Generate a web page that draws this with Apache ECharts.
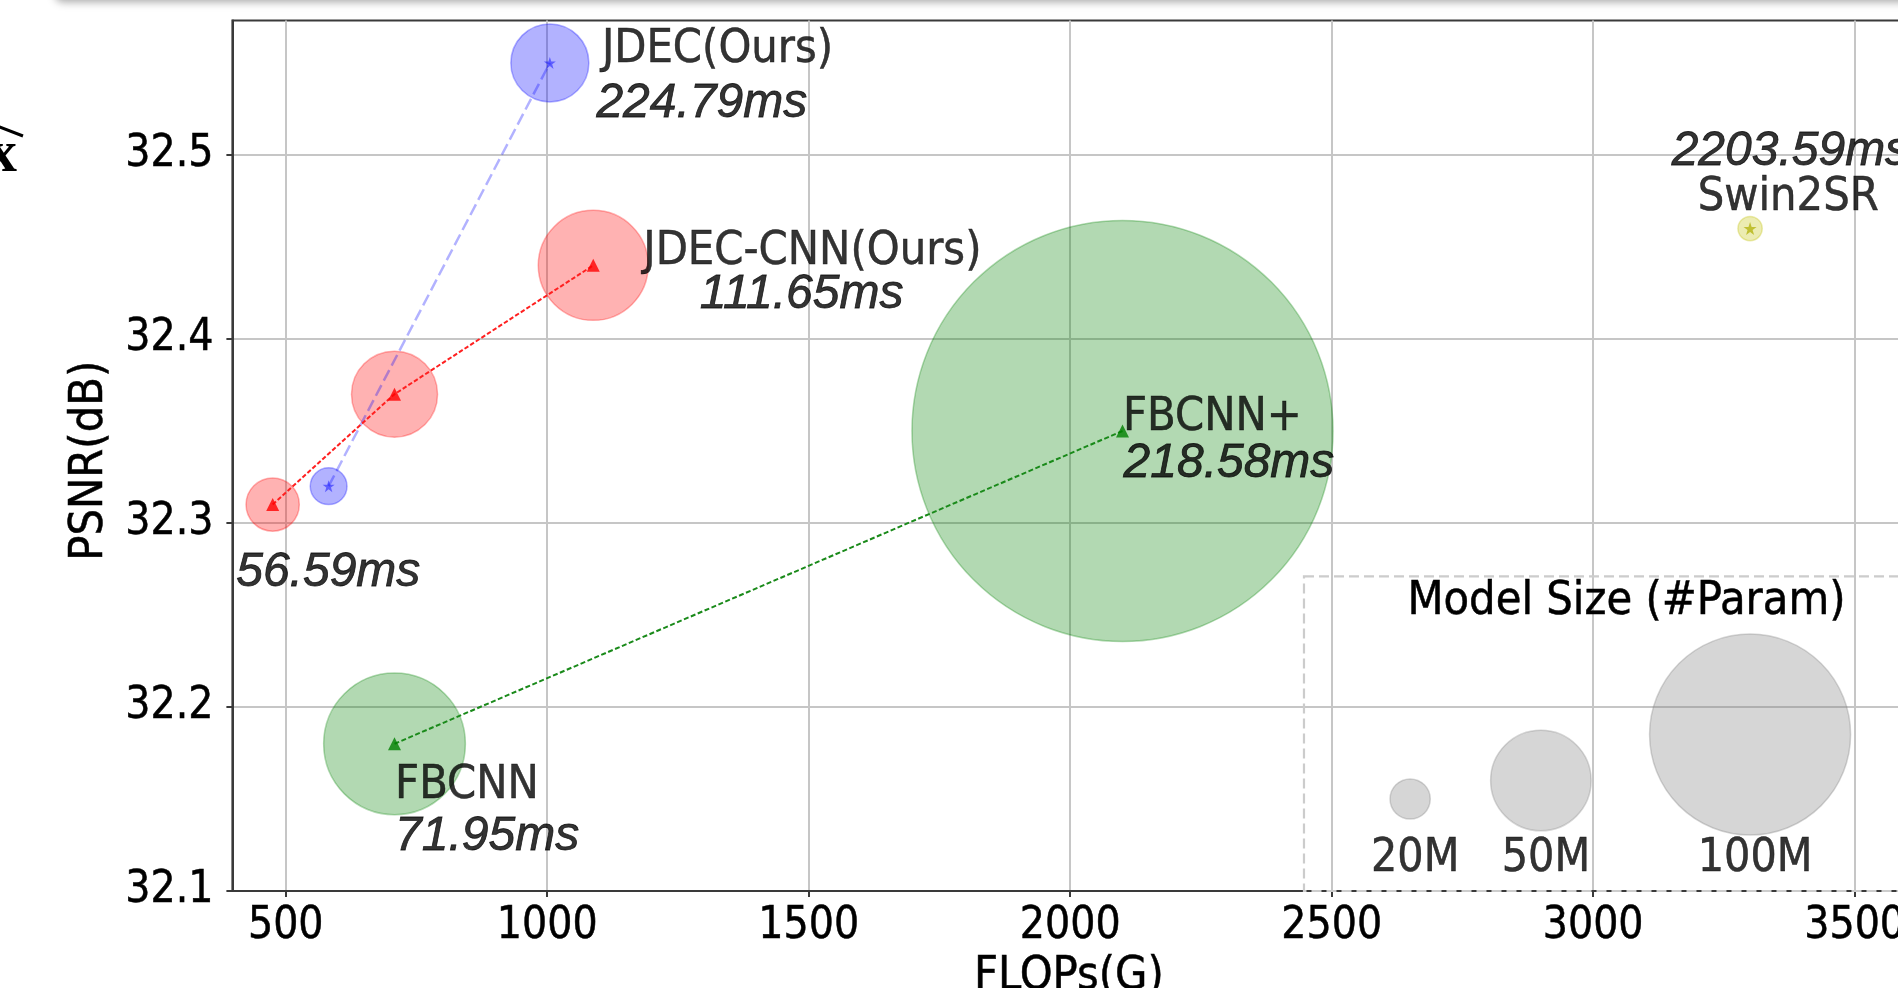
<!DOCTYPE html>
<html>
<head>
<meta charset="utf-8">
<script src="https://cdn.jsdelivr.net/npm/echarts@6/dist/echarts.min.js"></script>
<style>
  html, body { margin: 0; padding: 0; background: #fff; }
  #chart { width: 1898px; height: 988px; }
</style>
</head>
<body>
<div id="chart"></div>
<script>
// ---- Models: FLOPs (G), PSNR (dB), parameters (M), latency (ms) ----
const jdecFlops    = [582, 1005];
const jdecPsnr     = [32.32, 32.55];
const jdecParams   = [18.3, 38.8];
const jdecLatency  = [null, 224.79];
const jdecNames    = ['', 'JDEC(Ours)'];

const jdecCnnFlops   = [475, 708, 1088];
const jdecCnnPsnr    = [32.31, 32.37, 32.44];
const jdecCnnParams  = [26.5, 42.8, 54.7];
const jdecCnnLatency = [56.59, null, 111.65];
const jdecCnnNames   = ['', '', 'JDEC-CNN(Ours)'];

const fbcnnFlops   = [708, 2100];
const fbcnnPsnr    = [32.18, 32.35];
const fbcnnParams  = [70.5, 209.5];
const fbcnnLatency = [71.95, 218.58];
const fbcnnNames   = ['FBCNN', 'FBCNN+'];

const swinFlops   = [3300];
const swinPsnr    = [32.46];
const swinParams  = [12.1];
const swinLatency = [2203.59];
const swinNames   = ['Swin2SR'];

// ---- Model-size key ----
const keyTitle   = 'Model Size (#Param)';
const keyParams  = [20, 50, 100];
const keyLabels  = ['20M', '50M', '100M'];
const keyFlops   = [2650, 2900, 3300];
const keyPsnr    = [32.15, 32.16, 32.185];
const keyCaptionPsnr = 32.119;
const keyCorner  = [2447, 32.271];

// ---- Axes ----
const xRange = [398, 3597];
const yRange = [32.1, 32.573];
const xTicks = [500, 1000, 1500, 2000, 2500, 3000, 3500];
const yTicks = [32.1, 32.2, 32.3, 32.4, 32.5];

// ---- Styling ----
const PX_PER_M = 2.01;            // bubble diameter per million parameters
const INK = '#000';
const SPINE = '#3a3a3a';
const NAME_FONT = '"DejaVu Sans Condensed", "DejaVu Sans"';
const TIME_FONT = 'Liberation Sans';
const INK_EDGE = { textBorderColor: '#000', textBorderWidth: 0.8 };
const STAR = 'path://M50,0 L61.8,35.1 L98.9,35.1 L69,56.9 L80.3,91.9 L50,70.2 L19.7,91.9 L31,56.9 L1.1,35.1 L38.2,35.1 Z';

// text offsets (px) from each point: name line and latency line
const textOffsets = {
  jdec:    [null, { name: [52, -13], time: [46.5, 41] }],
  jdecCnn: [{ time: [-36.5, 68] }, null, { name: [50, -13], time: [106.5, 29] }],
  fbcnn:   [{ name: [0.5, 42.5], time: [0.5, 92.5] }, { name: [0.5, -13], time: [1, 33] }],
  swin:    [{ name: [-52.5, -31], time: [-78.5, -76.5] }]
};

const families = [
  { key: 'jdec', flops: jdecFlops, psnr: jdecPsnr, params: jdecParams, latency: jdecLatency, names: jdecNames,
    fill: 'rgba(0,0,255,0.3)', marker: STAR, markerSize: 12, markerColor: 'rgba(0,0,255,0.6)',
    line: { color: 'rgba(0,0,255,0.3)', width: 2.5, type: [12, 5] } },
  { key: 'jdecCnn', flops: jdecCnnFlops, psnr: jdecCnnPsnr, params: jdecCnnParams, latency: jdecCnnLatency, names: jdecCnnNames,
    fill: 'rgba(255,0,0,0.3)', marker: 'triangle', markerSize: 13, markerColor: '#ff0000',
    line: { color: '#ff2020', width: 2, type: [4.5, 2.2] } },
  { key: 'fbcnn', flops: fbcnnFlops, psnr: fbcnnPsnr, params: fbcnnParams, latency: fbcnnLatency, names: fbcnnNames,
    fill: 'rgba(0,128,0,0.3)', marker: 'triangle', markerSize: 13, markerColor: '#008000',
    line: { color: '#1a8a1a', width: 2, type: [5, 2.5] } },
  { key: 'swin', flops: swinFlops, psnr: swinPsnr, params: swinParams, latency: swinLatency, names: swinNames,
    fill: 'rgba(191,191,0,0.3)', marker: STAR, markerSize: 13, markerColor: 'rgba(175,175,0,0.9)',
    line: null }
];

const series = [];
const nameItems = [];
const timeItems = [];

families.forEach(f => {
  const pts = f.flops.map((x, i) => [x, f.psnr[i], f.params[i]]);
  // parameter bubbles
  series.push({
    type: 'scatter', z: 2, silent: true,
    data: pts,
    symbol: 'circle',
    symbolSize: d => d[2] * PX_PER_M,
    itemStyle: { color: f.fill, borderColor: f.fill, borderWidth: 1.5, opacity: 1 }
  });
  // dashed connection
  if (f.line) {
    series.push({
      type: 'line', z: 3, silent: true, symbol: 'none',
      data: pts.map(p => [p[0], p[1]]),
      lineStyle: { color: f.line.color, width: f.line.width, type: f.line.type }
    });
  }
  // center markers
  series.push({
    type: 'scatter', z: 4, silent: true,
    data: pts.map(p => [p[0], p[1]]),
    symbol: f.marker, symbolSize: f.markerSize,
    itemStyle: { color: f.markerColor }
  });
  // text
  pts.forEach((p, i) => {
    const off = textOffsets[f.key][i];
    if (!off) return;
    if (f.names[i] && off.name) {
      nameItems.push({ value: [p[0], p[1]], name: f.names[i], label: { offset: off.name } });
    }
    if (f.latency[i] != null && off.time) {
      timeItems.push({ value: [p[0], p[1]], name: f.latency[i].toFixed(2) + 'ms', label: { offset: off.time } });
    }
  });
});

const textSeries = (items, font, align) => ({
  type: 'scatter', z: 6, silent: true,
  data: items,
  symbolSize: 0.1,
  itemStyle: { color: 'rgba(0,0,0,0)' },
  label: {
    show: true, position: 'right', distance: 0, align: align || 'left', verticalAlign: 'middle',
    formatter: p => p.name, color: INK, ...INK_EDGE, ...font
  }
});
series.push(textSeries(nameItems, { fontFamily: NAME_FONT, fontSize: 46.5, textBorderWidth: 0.5 }));
series.push(textSeries(timeItems, { fontFamily: TIME_FONT, fontSize: 48, fontStyle: 'italic' }));

// size key bubbles inside a dashed frame
series.push({
  type: 'scatter', z: 2, silent: true,
  data: keyFlops.map((x, i) => [x, keyPsnr[i], keyParams[i]]),
  symbolSize: d => d[2] * PX_PER_M,
  itemStyle: { color: 'rgba(128,128,128,0.4)', borderColor: 'rgba(128,128,128,0.4)', borderWidth: 1.5 },
  markArea: {
    silent: true,
    itemStyle: { color: 'rgba(0,0,0,0)', borderColor: '#cccccc', borderWidth: 2.2, borderType: [10, 5] },
    label: {
      show: true, position: [104.5, 27], align: 'left', verticalAlign: 'middle',
      color: INK, fontFamily: NAME_FONT, fontSize: 46.5, textBorderColor: '#000', textBorderWidth: 0.5
    },
    data: [[
      { name: keyTitle, coord: keyCorner },
      { coord: [xRange[1], yRange[0]] }
    ]]
  }
});
const keyCaptions = textSeries(
  keyFlops.map((x, i) => ({ value: [x, keyCaptionPsnr], name: keyLabels[i], label: { offset: [5, 3] } })),
  { fontFamily: NAME_FONT, fontSize: 46, textBorderWidth: 0.5 }, 'center');
series.push(keyCaptions);

const axisFont = { fontFamily: NAME_FONT, fontSize: 44, color: INK, textBorderColor: '#000', textBorderWidth: 0.5 };
const axisName = { fontFamily: NAME_FONT, fontSize: 46.5, color: INK, textBorderColor: '#000', textBorderWidth: 0.5 };

const option = {
  animation: false,
  backgroundColor: '#ffffff',
  grid: {
    left: 232.4, top: 20.6, width: 1673, height: 870.4,
    outerBoundsMode: 'none', containLabel: false,
    show: true, borderColor: SPINE, borderWidth: 2, backgroundColor: 'rgba(0,0,0,0)'
  },
  xAxis: {
    type: 'value', min: xRange[0], max: xRange[1],
    name: 'FLOPs(G)', nameLocation: 'middle', nameGap: 55.5,
    nameTextStyle: axisName,
    axisLine: { show: true, onZero: false, lineStyle: { color: SPINE, width: 2 } },
    axisTick: { show: true, customValues: xTicks, length: 6, lineStyle: { color: SPINE, width: 2 } },
    axisLabel: { customValues: xTicks, margin: 13.5, formatter: v => String(v), ...axisFont },
    splitLine: { show: true, lineStyle: { color: '#c6c6c6', width: 2 } }
  },
  yAxis: {
    type: 'value', min: yRange[0], max: yRange[1],
    name: 'PSNR(dB)', nameLocation: 'middle', nameGap: 99, nameRotate: 90,
    nameTextStyle: { ...axisName, padding: [0, 10, 0, 0] },
    axisLine: { show: true, onZero: false, lineStyle: { color: SPINE, width: 2 } },
    axisTick: { show: true, customValues: yTicks, length: 6, lineStyle: { color: SPINE, width: 2 } },
    axisLabel: { customValues: yTicks, margin: 19, formatter: v => v.toFixed(1), ...axisFont },
    splitLine: { show: true, lineStyle: { color: '#c6c6c6', width: 2 } }
  },
  graphic: [
    // edge of the neighbouring panel along the top
    { type: 'rect', silent: true, shape: { x: 55, y: -30, width: 1900, height: 30, r: 8 },
      style: { fill: '#f2f2f2', shadowBlur: 8, shadowOffsetY: 2, shadowColor: 'rgba(0,0,0,0.35)' } },
    // clipped glyph of the neighbouring panel at the left edge
    { type: 'text', silent: true, x: -12.5, y: 156,
      style: { text: 'x', font: 'bold 59px "Liberation Serif"', fill: '#000', verticalAlign: 'middle' } },
    { type: 'polyline', silent: true, shape: { points: [[-30, 138], [-4, 125.5], [23, 136]] },
      style: { stroke: '#000', lineWidth: 3, fill: null } }
  ],
  series: series
};

const chart = echarts.init(document.getElementById('chart'), null, { renderer: 'canvas' });
chart.setOption(option);
</script>
</body>
</html>
